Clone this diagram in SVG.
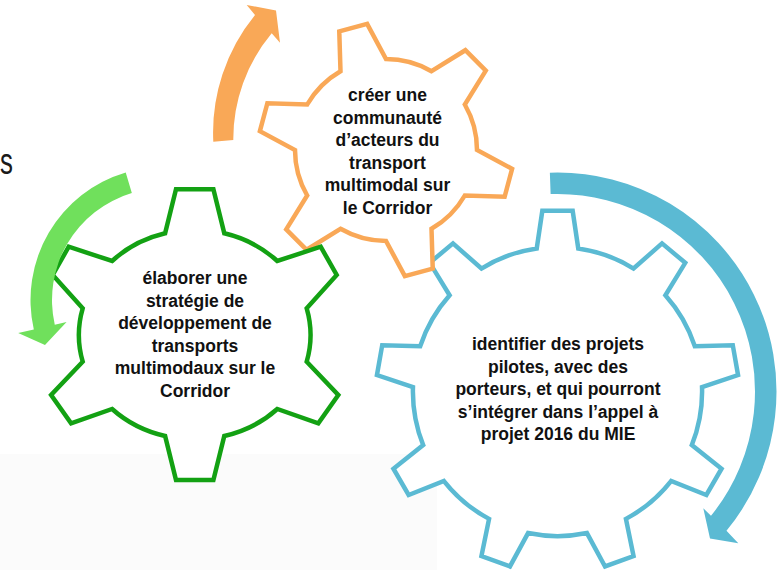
<svg xmlns="http://www.w3.org/2000/svg" width="777" height="570" viewBox="0 0 777 570">
<style>
.gear{fill:#fff;stroke-width:4.5;stroke-linejoin:miter}
.lbl{font-family:"Liberation Sans",Arial,sans-serif;font-weight:bold;font-size:17.5px;fill:#111;text-anchor:middle}
</style>
<rect width="777" height="570" fill="#fff"/>
<rect x="0" y="454" width="437" height="116" fill="#fbfbfb"/>
<text transform="translate(0,173.5) scale(0.7,1)" x="0" y="0" font-family="Liberation Sans, Arial, sans-serif" font-size="37" fill="#1a1a1a">s</text>

<g id="gear-blue">
<path class="gear" stroke="#5BBAD3" stroke-width="4" d="M536.75 248.4 L542.33 210.84 L572.67 210.84 L578.25 248.4 A144.6 144.6 0 0 1 633.59 268.54 L662.01 243.35 L685.25 262.85 L665.38 295.21 A144.6 144.6 0 0 1 694.83 346.22 L732.78 345.19 L738.05 375.07 L702.03 387.08 A144.6 144.6 0 0 1 691.81 445.08 L721.55 468.69 L706.37 494.97 L671.06 481.02 A144.6 144.6 0 0 1 625.94 518.88 L633.55 556.08 L605.04 566.46 L586.95 533.07 A144.6 144.6 0 0 1 528.05 533.07 L509.96 566.46 L481.45 556.08 L489.06 518.88 A144.6 144.6 0 0 1 443.94 481.02 L408.63 494.97 L393.45 468.69 L423.19 445.08 A144.6 144.6 0 0 1 412.97 387.08 L376.95 375.07 L382.22 345.19 L420.17 346.22 A144.6 144.6 0 0 1 449.62 295.21 L429.75 262.85 L452.99 243.35 L481.41 268.54 A144.6 144.6 0 0 1 536.75 248.4 Z"/>
<text class="lbl"><tspan x="558" y="350">identifier des projets</tspan><tspan x="558" y="372.5">pilotes, avec des</tspan><tspan x="558" y="395">porteurs, et qui pourront</tspan><tspan x="558" y="417.5">s’intégrer dans l’appel à</tspan><tspan x="558" y="440">projet 2016 du MIE</tspan></text>
</g>

<g id="gear-orange">
<path class="gear" stroke="#F9A857" d="M340.5 71.19 L339.27 31.37 L367.15 23.9 L386 59 A91 91 0 0 1 431.5 71.19 L465.37 50.22 L485.78 70.63 L464.81 104.5 A91 91 0 0 1 477 150 L512.1 168.85 L504.63 196.73 L464.81 195.5 A91 91 0 0 1 431.5 228.81 L432.73 268.63 L404.85 276.1 L386 241 A91 91 0 0 1 340.5 228.81 L306.63 249.78 L286.22 229.37 L307.19 195.5 A91 91 0 0 1 295 150 L259.9 131.15 L267.37 103.27 L307.19 104.5 A91 91 0 0 1 340.5 71.19 Z"/>
<text class="lbl"><tspan x="387.5" y="101">créer une</tspan><tspan x="387.5" y="123.5">communauté</tspan><tspan x="387.5" y="146">d’acteurs du</tspan><tspan x="387.5" y="168.5">transport</tspan><tspan x="387.5" y="191">multimodal sur</tspan><tspan x="387.5" y="213.5">le Corridor</tspan></text>
</g>

<g id="gear-green">
<path class="gear" stroke="#13A113" d="M176 189.3 L213.4 189.3 L224.3 233.3 A115.7 104.9 0 0 1 277.3 261 L320.7 246.7 L336.7 275 L306.7 308.3 A115.7 104.9 0 0 1 306.7 361.7 L338.3 395 L318.3 423.3 L277.3 409 A115.7 104.9 0 0 1 224.3 436 L213.4 480 L176 480 L165.1 436 A115.7 104.9 0 0 1 112.1 409 L71.1 423.3 L51.1 395 L82.7 361.7 A115.7 104.9 0 0 1 82.7 308.3 L52.7 275 L68.7 246.7 L112.1 261 A115.7 104.9 0 0 1 165.1 233.3 Z"/>
<text class="lbl"><tspan x="195" y="284">élaborer une</tspan><tspan x="195" y="306.6">stratégie de</tspan><tspan x="195" y="329.2">développement de</tspan><tspan x="195" y="351.8">transports</tspan><tspan x="195" y="374.4">multimodaux sur le</tspan><tspan x="195" y="397">Corridor</tspan></text>
</g>

<g id="connectors">
<path id="arrow-orange" fill="#F9A857" d="M213.3 141.7 A186 186 0 0 1 255 15 L246.7 5 L276 10.5 L280 42.7 L271.7 33.3 A165 165 0 0 0 233.3 140 Z"/>
<path id="arrow-green" fill="#70E05C" d="M125.73 172.48 A133 133 0 0 0 33.81 329.47 L18.2 333 L45 345 L66.57 322.02 L54.77 324.7 A111.5 111.5 0 0 1 131.83 193.09 Z"/>
<path id="arrow-blue" fill="#5BBAD3" d="M549.86 172.63 A219 219 0 0 1 726.48 530.8 L738.3 543.3 L710 538.5 L703.3 508.3 L710.99 515.79 A197.5 197.5 0 0 0 550.61 194.12 Z"/>
</g>
</svg>
